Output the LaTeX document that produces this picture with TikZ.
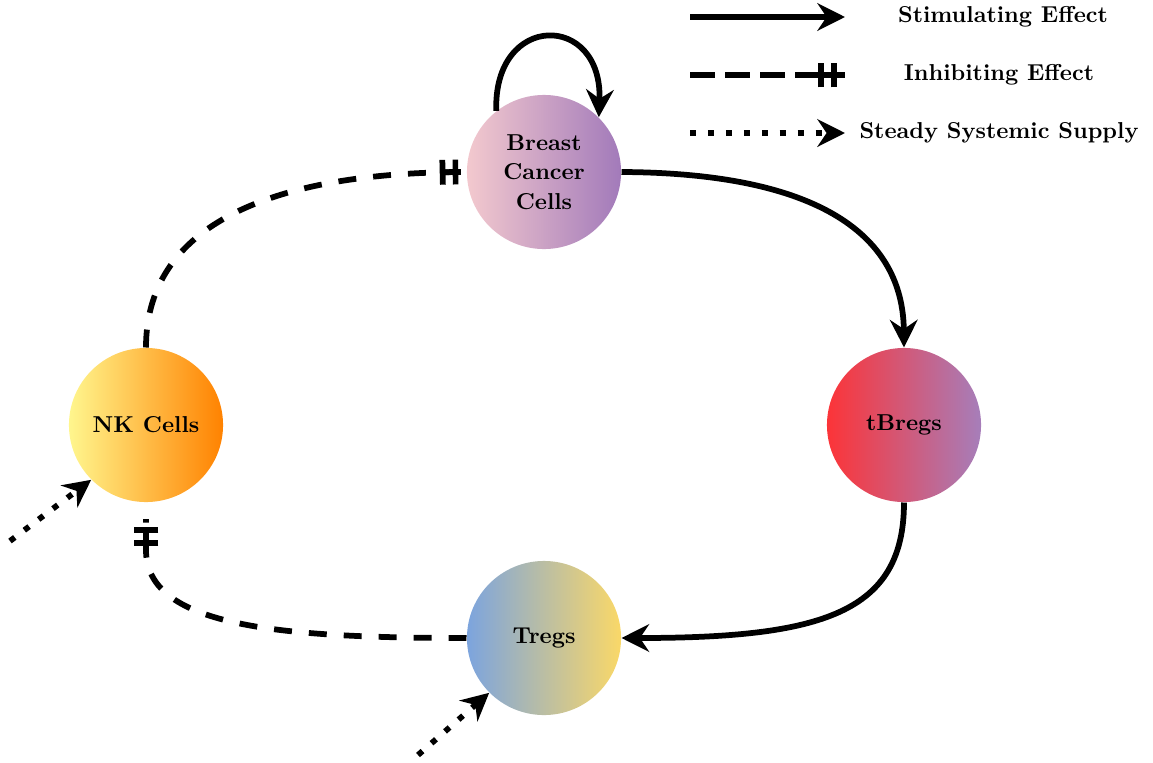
\documentclass[tikz,border=0pt]{standalone}
\usetikzlibrary{arrows.meta,decorations.markings}
\definecolor{bcL}{RGB}{243,201,206}
\definecolor{bcR}{RGB}{162,122,186}
\definecolor{tbL}{RGB}{252,52,56}
\definecolor{tbR}{RGB}{166,126,186}
\definecolor{trL}{RGB}{124,164,222}
\definecolor{trR}{RGB}{250,216,104}
\definecolor{nkL}{RGB}{255,246,142}
\definecolor{nkR}{RGB}{255,130,0}
\newcommand\myfont{\fontsize{10}{12.8}\selectfont\bfseries}
\begin{document}
\begin{tikzpicture}[x=0.4348pt,y=0.4348pt,
  cell/.style={circle,minimum size=67pt,inner sep=0pt,font=\myfont,align=center,text=black},
  legtext/.style={font=\myfont,inner sep=0pt},
  tipstyle/.style={-{Stealth[length=12pt,width=12pt,inset=4pt]}},
  stim/.style={line width=2.5pt,tipstyle},
  supply/.style={line width=2.5pt,dash pattern=on 2.6pt off 5.2pt,tipstyle},
  inhib/.style={line width=2.5pt,dash pattern=on 7.8pt off 7.4pt,
    postaction={decorate},
    decoration={markings,
      mark=at position -4.8pt with {\draw[solid,line width=2.4pt] (0,-5.4pt) -- (0,5.4pt);},
      mark=at position -10.4pt with {\draw[solid,line width=2.5pt] (0,-5.4pt) -- (0,5.4pt);
                                    \draw[solid,line width=2.5pt] (0,0) -- (5.6pt,0);}}},
  leginhib/.style={inhib,dash pattern=on 10.9pt off 4.35pt}]
\path[use as bounding box] (0,0) rectangle (1153,-762);

% cells
\node[cell,left color=bcL,right color=bcR] (bc) at (544,-172) {Breast\\Cancer\\Cells};
\node[cell,left color=tbL,right color=tbR] (tb) at (904,-425) {tBregs};
\node[cell,left color=trL,right color=trR] (tr) at (544,-638) {Tregs};
\node[cell,left color=nkL,right color=nkR] (nk) at (146,-425) {NK Cells};

% stimulating
\draw[stim] (bc.128) .. controls (493,-12) and (603,-12) .. (bc.45);
\draw[stim] (bc.east) .. controls (822,-173) and (903,-237) .. (tb.north);
\draw[stim] (tb.south) .. controls (904,-613) and (822,-638) .. (tr.east);

% inhibiting
\coordinate (nkbend) at (146,-550);
\coordinate (nkin) at (146,-519);
\draw[inhib] (nk.north) .. controls (146,-217) and (287,-172) .. (bc.west);
\draw[inhib] (tr.west) .. controls (272,-638) and (146,-625) .. (nkbend) -- (nkin);

% supply
\coordinate (s1) at (10,-541);
\coordinate (s2) at (418,-755);
\draw[supply] (s1) -- (nk.225);
\draw[supply] (s2) -- (tr.225);

% legend
\coordinate (la1) at (690,-17);  \coordinate (lb1) at (845,-17);
\coordinate (la2) at (690,-75);  \coordinate (lb2) at (845,-75);
\coordinate (la3) at (690,-133); \coordinate (lb3) at (845,-133);
\draw[stim] (la1) -- (lb1);
\draw[leginhib] (la2) -- (lb2);
\draw[supply] (la3) -- (lb3);
\node[legtext] (t1) at (1003,-17) {Stimulating Effect};
\node[legtext] (t2) at (999,-75) {Inhibiting Effect};
\node[legtext] (t3) at (999,-133) {Steady Systemic Supply};
\end{tikzpicture}
\end{document}
